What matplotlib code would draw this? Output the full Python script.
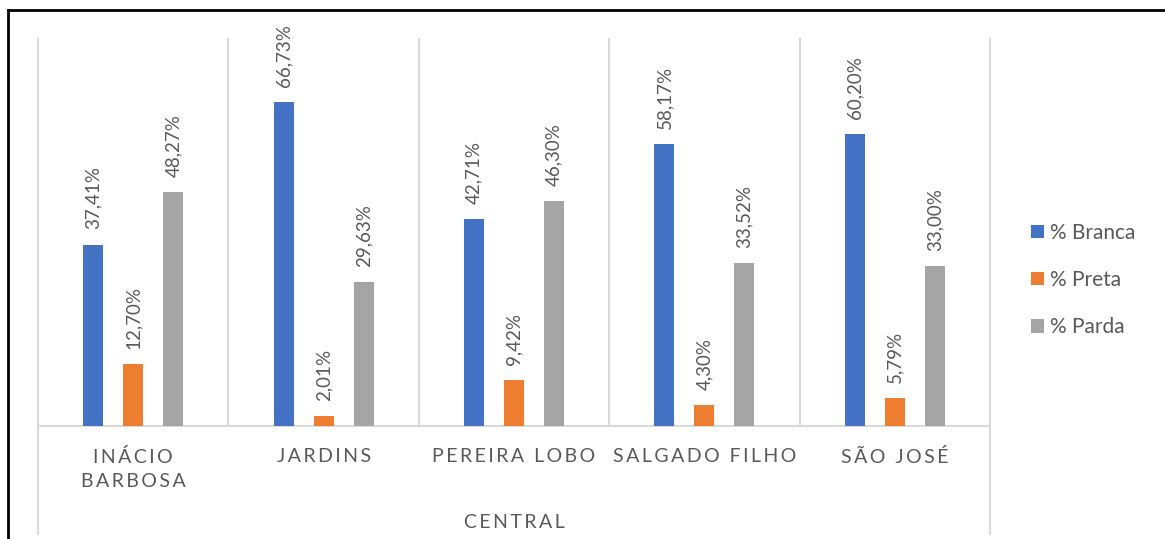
import matplotlib
matplotlib.use("Agg")
import matplotlib.pyplot as plt
from matplotlib.lines import Line2D
import numpy as np

plt.rcParams['font.family'] = ['Lato', 'DejaVu Sans']

# dados
bairros = ["INÁCIO\nBARBOSA", "JARDINS", "PEREIRA LOBO", "SALGADO FILHO", "SÃO JOSÉ"]
branca = [37.41, 66.73, 42.71, 58.17, 60.20]
preta = [12.70, 2.01, 9.42, 4.30, 5.79]
parda = [48.27, 29.63, 46.30, 33.52, 33.00]
series_names = ["% Branca", "% Preta", "% Parda"]
colors = ["#4472C4", "#ED7D31", "#A5A5A5"]
grupo = "CENTRAL"

text_col = "#595959"
grid_col = "#D9D9D9"


def spaced(s):
    # imita o espaçamento de letras do Excel
    return "\n".join("\u2009".join(line) for line in s.split("\n"))


fig = plt.figure(figsize=(11.65, 5.39), dpi=100)
ax = fig.add_axes([38 / 1165, 1 - 426 / 539, (990 - 38) / 1165, (426 - 38) / 539])

x = np.arange(len(bairros))
width = 0.105
offset = 0.21
for i, (vals, name, col) in enumerate(zip([branca, preta, parda], series_names, colors)):
    pos = x + (i - 1) * offset
    ax.bar(pos, vals, width, color=col, label=name, zorder=3)
    for xp, v in zip(pos, vals):
        ax.annotate(f"{v:.2f}%".replace(".", ","), (xp, v), xytext=(0, 11),
                    textcoords="offset points", rotation=90, ha="center", va="bottom",
                    fontsize=13.5, color=text_col)

ax.set_xlim(-0.5, len(bairros) - 0.5)
ax.set_ylim(0, 80)
ax.set_yticks([])
for s in ["top", "right", "left"]:
    ax.spines[s].set_visible(False)
ax.spines["bottom"].set_color(grid_col)
ax.spines["bottom"].set_linewidth(1.5)

ax.set_xticks(x)
ax.set_xticklabels([spaced(b) for b in bairros], fontsize=14, color=text_col, linespacing=1.5)
ax.tick_params(axis="x", length=0, pad=16)

# linhas verticais separando categorias
xt = ax.get_xaxis_transform()
bounds = np.arange(len(bairros) + 1) - 0.5
ax.vlines(bounds[1:-1], 0, 1, transform=xt, color=grid_col, lw=1.5, zorder=1)
ax.vlines([bounds[0], bounds[-1]], -0.28, 1, transform=xt, color=grid_col, lw=1.5,
          zorder=1, clip_on=False)

ax.text(0.5, -0.248, spaced(grupo), transform=ax.transAxes, ha="center", va="center",
        fontsize=14, color=text_col)

fig.legend(loc="center left", bbox_to_anchor=(1031 / 1165, 1 - 280 / 539), frameon=False,
           fontsize=15, labelcolor=text_col, handlelength=0.62, handleheight=0.62,
           handletextpad=0.3, labelspacing=1.3, borderpad=0, borderaxespad=0)

# moldura
fig.add_artist(Line2D([8 / 1165, 1], [1 - 10 / 539, 1 - 10 / 539], color="black", lw=2))
fig.add_artist(Line2D([8 / 1165, 8 / 1165], [0, 1 - 10 / 539], color="black", lw=2))

fig.savefig("out.png", dpi=100)
